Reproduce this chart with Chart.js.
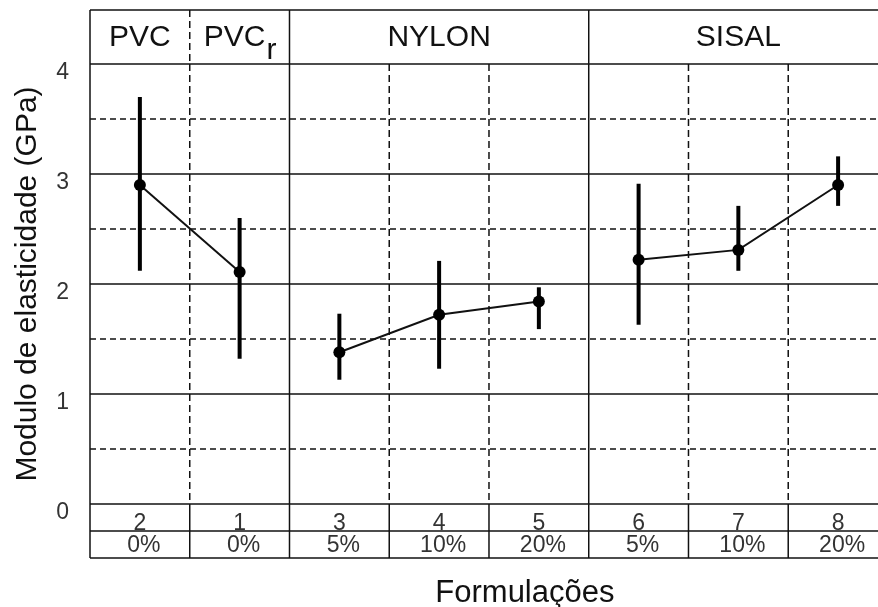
<!DOCTYPE html>
<html>
<head>
<meta charset="utf-8">
<script src="https://cdn.jsdelivr.net/npm/chart.js@4"></script>
<style>
  body { margin: 0; background: #fff; overflow: hidden; }
</style>
</head>
<body>
<canvas id="myChart" width="878" height="607"></canvas>
<script>
'use strict'

// dados
const formulacoes = ['2', '1', '3', '4', '5', '6', '7', '8']
const teores = ['0%', '0%', '5%', '10%', '20%', '5%', '10%', '20%']
const modulo = [2.90, 2.11, 1.38, 1.72, 1.84, 2.22, 2.31, 2.90]
const moduloMax = [3.70, 2.60, 1.73, 2.21, 1.97, 2.91, 2.71, 3.16]
const moduloMin = [2.12, 1.32, 1.13, 1.23, 1.59, 1.63, 2.12, 2.71]
const serie = [1, 1, 2, 2, 2, 3, 3, 3]
const grupos = ['PVC', 'PVC', 'NYLON', 'SISAL']
const subscritos = ['', 'r', '', '']
const grupoInicio = [0, 1, 2, 5]
const grupoFim = [0, 1, 4, 7]
const yTicks = [0, 1, 2, 3, 4]

const fonte = (size) => `${size}px "Liberation Sans", Arial, sans-serif`

const grupoDe = (i) => grupoInicio.findIndex((ini, g) => i >= ini && i <= grupoFim[g])

const tabela = {
  id: 'tabela',
  beforeDatasetsDraw(chart) {
    const { ctx, chartArea: area, scales: { x, y } } = chart
    const y0 = y.getPixelForValue(0)
    const y4 = y.getPixelForValue(4)
    const yLinha = y.getPixelForValue(-0.245)

    const linha = (x1, y1, x2, y2, dash) => {
      ctx.beginPath()
      ctx.setLineDash(dash || [])
      ctx.moveTo(x1, y1)
      ctx.lineTo(x2, y2)
      ctx.stroke()
    }

    ctx.save()
    ctx.strokeStyle = '#111'
    ctx.lineWidth = 1.5

    // linhas horizontais
    for (let v = 0.5; v < 4; v += 0.5) {
      const py = y.getPixelForValue(v)
      linha(area.left, py, area.right, py, Number.isInteger(v) ? null : [6, 4])
    }
    ;[area.top, y4, y0, yLinha, area.bottom].forEach(py => linha(area.left, py, area.right, py))
    linha(area.left, area.top, area.left, area.bottom)

    // linhas verticais
    for (let i = 0; i < formulacoes.length - 1; i++) {
      const px = x.getPixelForValue(i + 0.5)
      const quebra = serie[i] !== serie[i + 1]
      linha(px, y0, px, area.bottom)
      linha(px, y4, px, y0, quebra ? null : [7, 4])
      if (grupoDe(i) !== grupoDe(i + 1)) {
        linha(px, area.top, px, y4, quebra ? null : [7, 4])
      }
    }
    ctx.setLineDash([])

    // cabecalho
    ctx.fillStyle = '#111'
    ctx.textBaseline = 'alphabetic'
    grupos.forEach((nome, g) => {
      ctx.font = fonte(30)
      const w1 = ctx.measureText(nome).width
      const w2 = ctx.measureText(subscritos[g]).width
      const cx = x.getPixelForValue((grupoInicio[g] + grupoFim[g]) / 2)
      const start = cx - (w1 + w2) / 2
      ctx.textAlign = 'left'
      ctx.fillText(nome, start, y4 - 18)
      if (subscritos[g]) ctx.fillText(subscritos[g], start + w1 + 1, y4 - 5)
    })

    // linhas de baixo
    ctx.fillStyle = '#333'
    ctx.font = fonte(23)
    ctx.textAlign = 'center'
    formulacoes.forEach((f, i) => {
      const px = x.getPixelForValue(i)
      ctx.fillText(f, px, yLinha - 1)
      ctx.fillText(teores[i], px + 4, area.bottom - 6)
    })

    // titulo do eixo x
    ctx.fillStyle = '#111'
    ctx.font = fonte(31)
    ctx.fillText('Formulações', x.getPixelForValue(3.86), chart.height - 5)

    // barras de erro
    ctx.strokeStyle = '#000'
    ctx.lineWidth = 4
    modulo.forEach((v, i) => {
      const px = x.getPixelForValue(i)
      linha(px, y.getPixelForValue(moduloMax[i]), px, y.getPixelForValue(moduloMin[i]))
    })
    ctx.restore()
  }
}

const ctx = document.getElementById('myChart')

const myChart = new Chart(ctx, {
  type: 'line',
  data: {
    datasets: [{
      data: modulo.map((v, i) => ({ x: i, y: v })),
      borderColor: '#111',
      borderWidth: 2,
      pointRadius: 6,
      pointBackgroundColor: '#000',
      pointBorderWidth: 0,
      segment: {
        borderColor: (c) => serie[c.p0DataIndex] === serie[c.p1DataIndex] ? '#111' : 'rgba(0,0,0,0)'
      }
    }]
  },
  options: {
    responsive: false,
    animation: false,
    devicePixelRatio: 1,
    layout: { autoPadding: false, padding: { top: 10, right: 0, bottom: 0, left: 0 } },
    plugins: {
      legend: { display: false },
      tooltip: { enabled: false }
    },
    scales: {
      x: {
        type: 'linear',
        min: -0.5,
        max: 7.4,
        ticks: { display: false },
        grid: { display: false },
        border: { display: false },
        afterFit: (s) => {
          s.height = 49
          s.paddingLeft = 0
          s.paddingRight = 0
        }
      },
      y: {
        min: -0.49,
        max: 4.49,
        afterBuildTicks: (s) => { s.ticks = yTicks.map(v => ({ value: v })) },
        afterFit: (s) => {
          s.width = 90
          s.paddingTop = 0
          s.paddingBottom = 0
        },
        grid: { display: false },
        border: { display: false },
        ticks: {
          padding: 13,
          labelOffset: 9,
          color: '#333',
          font: { family: '"Liberation Sans", Arial, sans-serif', size: 23 }
        },
        title: {
          display: true,
          text: 'Modulo de elasticidade (GPa)',
          color: '#111',
          font: { family: '"Liberation Sans", Arial, sans-serif', size: 30, lineHeight: 1 },
          padding: { top: 13, bottom: 0 }
        }
      }
    }
  },
  plugins: [tabela]
})
</script>
</body>
</html>
